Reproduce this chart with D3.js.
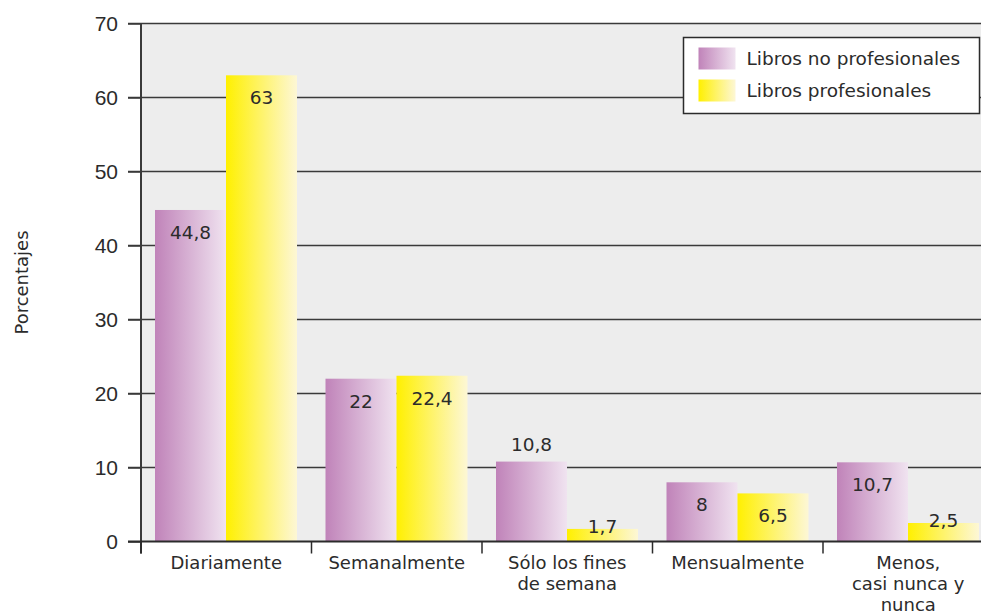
<!DOCTYPE html>
<meta charset="utf-8">
<style>
body { margin: 0; background: #fff; }
svg { display: block; font-family: "DejaVu Sans", "Noto Sans", sans-serif; }
.grid line { stroke: #3a3a3a; stroke-width: 1.5px; }
.axis text { fill: #2b2b2b; font-size: 18px; }
.ytick text { font-size: 21px; }
.val { fill: #2b2b2b; font-size: 18.5px; text-anchor: middle; }
</style>
<body>
<script src="https://cdn.jsdelivr.net/npm/d3@7"></script>
<script>

var categories = [["Diariamente"], ["Semanalmente"], ["Sólo los fines", "de semana"], ["Mensualmente"], ["Menos,", "casi nunca y", "nunca"]];
var seriesNames = ["Libros no profesionales", "Libros profesionales"];
var noProf = [44.8, 22, 10.8, 8, 10.7];
var prof = [63, 22.4, 1.7, 6.5, 2.5];
var yTicks = [0, 10, 20, 30, 40, 50, 60, 70];
// labels drawn above the bar instead of inside
var aboveLabels = ["Sólo los fines"];

var W = 981, H = 614;
var plotLeft = 141, plotTop = 23.5, plotBottom = 541.5;

var svg = d3.select("body").append("svg")
    .attr("width", W)
    .attr("height", H);

var defs = svg.append("defs");
var gPink = defs.append("linearGradient").attr("id", "gPink");
gPink.append("stop").attr("offset", "0%").attr("stop-color", "#c083b9");
gPink.append("stop").attr("offset", "100%").attr("stop-color", "#f0e3f0");
var gYel = defs.append("linearGradient").attr("id", "gYel");
gYel.append("stop").attr("offset", "0%").attr("stop-color", "#fff000");
gYel.append("stop").attr("offset", "100%").attr("stop-color", "#fdf7d6");
var fills = ["url(#gPink)", "url(#gYel)"];

var x = d3.scaleBand()
    .domain(d3.range(categories.length))
    .range([plotLeft, plotLeft + 170.5 * categories.length]);

var x1 = d3.scaleBand()
    .domain([0, 1])
    .range([14, 156]);

var y = d3.scaleLinear()
    .domain([0, 70])
    .range([plotBottom, plotTop]);

// plot background
svg.append("rect")
    .attr("x", plotLeft).attr("y", y(70))
    .attr("width", W - plotLeft).attr("height", y(0) - y(70))
    .attr("fill", "#ededed");

// gridlines
svg.append("g").attr("class", "grid")
  .selectAll("line")
    .data(yTicks.filter(function(d) { return d > 0; }))
  .enter().append("line")
    .attr("x1", plotLeft - 13).attr("x2", W)
    .attr("y1", function(d) { return y(d); })
    .attr("y2", function(d) { return y(d); });

// y axis
var yAxis = svg.append("g")
    .attr("class", "axis ytick")
    .attr("transform", "translate(" + plotLeft + ",0)")
    .call(d3.axisLeft(y).tickValues(yTicks).tickSize(13).tickPadding(10).tickFormat(d3.format("d")));
yAxis.select(".domain").remove();
yAxis.selectAll("line").attr("stroke", "#3a3a3a").attr("stroke-width", 1.5);

svg.append("line")
    .attr("x1", plotLeft).attr("x2", plotLeft)
    .attr("y1", y(70)).attr("y2", plotBottom + 12)
    .attr("stroke", "#3a3a3a").attr("stroke-width", 2);

svg.append("text")
    .attr("transform", "translate(28," + ((plotTop + plotBottom) / 2) + ") rotate(-90)")
    .attr("text-anchor", "middle")
    .attr("fill", "#2b2b2b")
    .style("font-size", "18px")
    .text("Porcentajes");

// bars
var groups = svg.selectAll(".grp")
    .data(categories.map(function(c, i) { return {cat: c, i: i, vals: [noProf[i], prof[i]]}; }))
  .enter().append("g")
    .attr("class", "grp")
    .attr("transform", function(d) { return "translate(" + x(d.i) + ",0)"; });

groups.selectAll("rect")
    .data(function(d) { return d.vals; })
  .enter().append("rect")
    .attr("x", function(d, j) { return x1(j); })
    .attr("y", function(d) { return y(d); })
    .attr("width", x1.bandwidth())
    .attr("height", function(d) { return plotBottom - y(d); })
    .attr("fill", function(d, j) { return fills[j]; });

groups.selectAll(".val")
    .data(function(d) { return d.vals.map(function(v) { return {v: v, cat: d.cat}; }); })
  .enter().append("text")
    .attr("class", "val")
    .attr("x", function(d, j) { return x1(j) + x1.bandwidth() / 2; })
    .attr("y", function(d) {
      if (aboveLabels.indexOf(d.cat[0]) >= 0 && d.v > 5) return y(d.v) - 11;
      if (d.v < 5) return y(d.v) + 4;
      return y(d.v) + 29;
    })
    .text(function(d) { return String(d.v).replace(".", ","); });

// x axis
svg.append("line")
    .attr("x1", plotLeft - 13).attr("x2", W)
    .attr("y1", plotBottom).attr("y2", plotBottom)
    .attr("stroke", "#2b2b2b").attr("stroke-width", 2);

svg.selectAll(".sep")
    .data(d3.range(categories.length))
  .enter().append("line")
    .attr("x1", function(d) { return x(d); })
    .attr("x2", function(d) { return x(d); })
    .attr("y1", plotBottom).attr("y2", plotBottom + 12)
    .attr("stroke", "#2b2b2b").attr("stroke-width", 1.5);

var catLabels = svg.append("g").attr("class", "axis")
  .selectAll("text")
    .data(categories.map(function(c, i) { return {lines: c, i: i}; }))
  .enter().append("text")
    .attr("text-anchor", "middle")
    .attr("x", function(d) { return x(d.i) + x.bandwidth() / 2; })
    .attr("y", plotBottom + 27);
catLabels.selectAll("tspan")
    .data(function(d) { return d.lines.map(function(l) { return {l: l, cx: x(d.i) + x.bandwidth() / 2}; }); })
  .enter().append("tspan")
    .attr("x", function(d) { return d.cx; })
    .attr("dy", function(d, k) { return k === 0 ? 0 : 21; })
    .text(function(d) { return d.l; });

// legend
var leg = svg.append("g").attr("transform", "translate(683.5,37.5)");
leg.append("rect")
    .attr("width", 296).attr("height", 76)
    .attr("fill", "#fff").attr("stroke", "#2b2b2b").attr("stroke-width", 1.5);
seriesNames.forEach(function(n, j) {
  leg.append("rect")
      .attr("x", 15).attr("y", 10 + j * 32)
      .attr("width", 37).attr("height", 22)
      .attr("fill", fills[j]);
  leg.append("text")
      .attr("x", 63).attr("y", 27 + j * 32)
      .attr("fill", "#2b2b2b")
      .style("font-size", "18.5px")
      .text(n);
});

</script>
